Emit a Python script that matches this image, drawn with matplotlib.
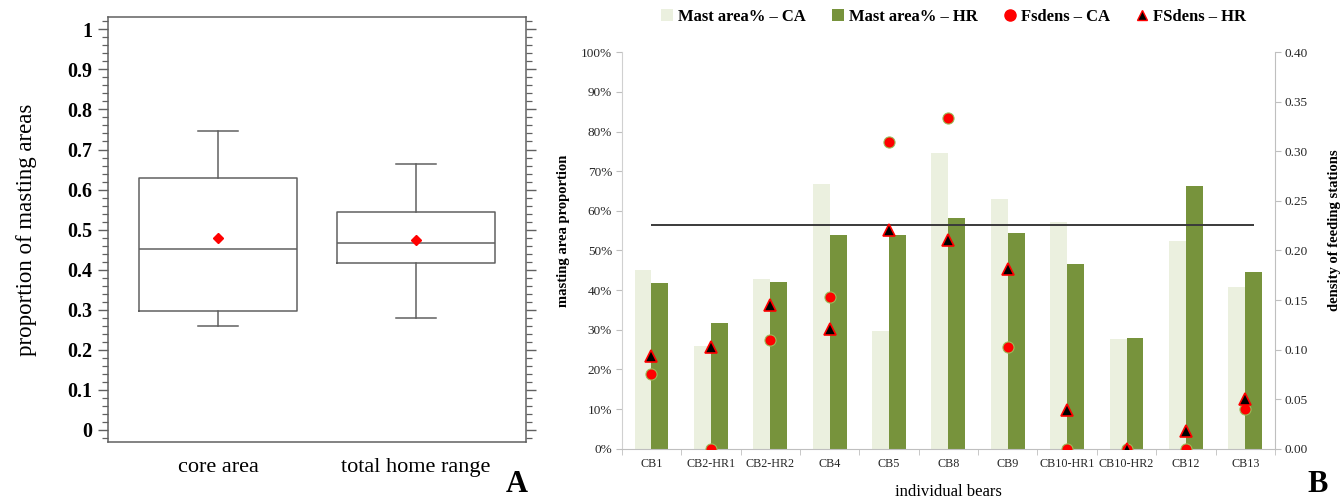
import numpy as np
import matplotlib
matplotlib.use("Agg")
import matplotlib.pyplot as plt
from matplotlib.ticker import MultipleLocator, FixedLocator, FuncFormatter
from matplotlib.lines import Line2D
from matplotlib.patches import Patch

plt.rcParams["font.family"] = ["Liberation Serif", "DejaVu Serif"]

# ---- data -----------------------------------------------------------------
bears = ["CB1", "CB2-HR1", "CB2-HR2", "CB4", "CB5", "CB8", "CB9",
         "CB10-HR1", "CB10-HR2", "CB12", "CB13"]
mast_ca = [45.1, 25.9, 42.8, 66.8, 29.8, 74.6, 63.0, 57.1, 27.7, 52.3, 40.8]   # %
mast_hr = [41.7, 31.6, 42.0, 53.9, 54.0, 58.2, 54.5, 46.6, 28.0, 66.3, 44.6]   # %
fsdens_ca = [0.075, 0.0, 0.110, 0.153, 0.309, 0.334, 0.103, 0.0, 0.0, 0.0, 0.040]
fsdens_hr = [0.094, 0.103, 0.145, 0.121, 0.221, 0.211, 0.181, 0.039, 0.0, 0.018, 0.050]
reference_level = 56.4   # % (horizontal line)
box_groups = ["core area", "total home range"]

CA_COLOR = "#EBF0DF"
HR_COLOR = "#77933C"

fig = plt.figure(figsize=(13.44, 4.98), dpi=100)

# ---- panel A: box plot of masting-area proportions -------------------------
axA = fig.add_axes([0.0801, 0.1131, 0.3112, 0.8522])


def box_stats(values, label):
    v = np.asarray(values) / 100.0
    q1, med, q3 = np.percentile(v, [25, 50, 75], method="weibull")
    return dict(label=label, med=med, q1=q1, q3=q3,
                whislo=v.min(), whishi=v.max(), mean=v.mean(), fliers=[])


def fmt_a(v, pos):
    if abs(v) < 1e-9 or abs(v - 1) < 1e-9:
        return f"{int(round(v))}"
    return f"{v:.1f}"


stats = [box_stats(mast_ca, box_groups[0]), box_stats(mast_hr, box_groups[1])]
line_kw = dict(color="#606060", linewidth=1.1)
axA.bxp(stats, positions=[1, 2], widths=0.8, showmeans=True, showfliers=False,
        boxprops=line_kw, whiskerprops=line_kw, capprops=line_kw,
        medianprops=line_kw, capwidths=0.2,
        meanprops=dict(marker="D", markerfacecolor="red", markeredgecolor="red",
                       markersize=4.8))
axA.set_xlim(0.442, 2.556)
axA.set_ylim(-0.0292, 1.030)
axA.yaxis.set_major_locator(MultipleLocator(0.1))
axA.yaxis.set_minor_locator(MultipleLocator(0.02))
axA.yaxis.set_major_formatter(FuncFormatter(fmt_a))
axA.tick_params(axis="y", which="both", left=True, right=True, direction="out",
                color="#606060")
axA.tick_params(axis="y", which="major", length=7, width=1.0, labelsize=14.5,
                pad=4)
axA.tick_params(axis="y", which="minor", length=4, width=0.9)
axA.tick_params(axis="x", length=0, labelsize=16, pad=12)
for lab in axA.get_yticklabels():
    lab.set_fontweight("bold")
for sp in axA.spines.values():
    sp.set_color("#606060")
    sp.set_linewidth(1.1)
axA.set_ylabel("proportion of masting areas", fontsize=16.5, labelpad=22)
fig.text(517 / 1344, 1 - 484 / 498, "A", fontsize=22, fontweight="bold",
         ha="center", va="center")

# ---- panel B: bars + feeding station densities -----------------------------
axB = fig.add_axes([0.4626, 0.0990, 0.4861, 0.7960])
x = np.arange(len(bears))
bw = 0.285
axB.bar(x - bw, mast_ca, width=bw, align="edge", color=CA_COLOR, zorder=2)
axB.bar(x, mast_hr, width=bw, align="edge", color=HR_COLOR, zorder=2)
axB.hlines(reference_level, 0, 10.14, color="#3a3a3a", linewidth=1.4, zorder=3)
axB.set_xlim(-0.5, 10.5)
axB.set_ylim(0, 100)
axB.yaxis.set_major_locator(MultipleLocator(10))
axB.yaxis.set_major_formatter(FuncFormatter(lambda v, p: f"{int(round(v))}%"))
axB.set_xticks(x)
axB.set_xticklabels(bears)
axB.xaxis.set_minor_locator(FixedLocator(np.arange(-0.5, 11, 1.0)))
axB.tick_params(axis="x", which="major", length=0, labelsize=8.7, pad=7,
                labelcolor="#262626")
axB.tick_params(axis="x", which="minor", length=4, color="#BFBFBF",
                direction="out")
axB.tick_params(axis="y", length=4, color="#BFBFBF", labelsize=9.5,
                labelcolor="#262626", pad=3)
for side in ("top", "right"):
    axB.spines[side].set_visible(False)
axB.spines["left"].set_color("#D0D0D0")
axB.spines["bottom"].set_color("#BFBFBF")
axB.set_ylabel("masting area proportion", fontsize=10.5, fontweight="bold")
axB.yaxis.set_label_coords(-0.079, 0.549)
axB.set_xlabel("individual bears", fontsize=12, labelpad=10)

axB2 = axB.twinx()
axB2.set_ylim(0, 0.40)
axB2.yaxis.set_major_locator(MultipleLocator(0.05))
axB2.yaxis.set_major_formatter(FuncFormatter(lambda v, p: f"{v:.2f}"))
axB2.tick_params(axis="y", length=4, color="#BFBFBF", labelsize=9.5,
                 labelcolor="#262626", pad=3)
for side in ("top", "left", "bottom"):
    axB2.spines[side].set_visible(False)
axB2.spines["right"].set_color("#BFBFBF")
axB2.plot(x, fsdens_ca, linestyle="none", marker="o", markersize=8,
          markerfacecolor="#FF0000", markeredgecolor="#9BBB59",
          markeredgewidth=0.8, zorder=4)
axB2.plot(x, fsdens_hr, linestyle="none", marker="^", markersize=9,
          markerfacecolor="black", markeredgecolor="#FF0000",
          markeredgewidth=1.2, zorder=5)
axB2.set_ylabel("density of feeding stations", fontsize=10.5, fontweight="bold")
axB2.yaxis.set_label_coords(1.081, 0.552)

handles = [
    Patch(facecolor=CA_COLOR, edgecolor="none"),
    Patch(facecolor=HR_COLOR, edgecolor="none"),
    Line2D([], [], linestyle="none", marker="o", markersize=8,
           markerfacecolor="#FF0000", markeredgecolor="#FF0000"),
    Line2D([], [], linestyle="none", marker="^", markersize=7,
           markerfacecolor="black", markeredgecolor="#FF0000"),
]
labels = ["Mast area% \u2013 CA", "Mast area% \u2013 HR",
          "Fsdens \u2013 CA", "FSdens \u2013 HR"]
axB.legend(handles, labels, ncol=4, loc="center", bbox_to_anchor=(0.508, 1.089),
           frameon=False, prop=dict(size=12, weight="bold"),
           handlelength=0.7, handleheight=0.7, handletextpad=0.3,
           columnspacing=1.6, borderaxespad=0)

fig.text(1318 / 1344, 1 - 484 / 498, "B", fontsize=22, fontweight="bold",
         ha="center", va="center")

fig.savefig("out.png", dpi=100)
